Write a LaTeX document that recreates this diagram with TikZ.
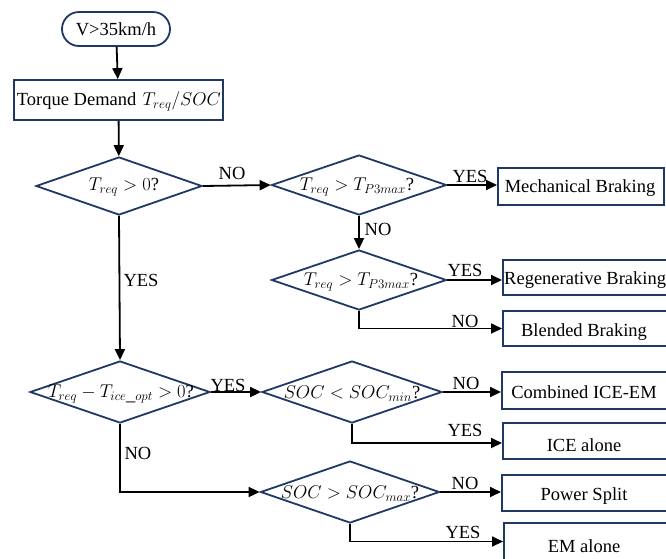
\RequirePackage{fix-cm}
\documentclass[tikz,border=0pt]{standalone}
\usepackage{fontspec}
\setmainfont{Liberation Serif}
\usetikzlibrary{shapes.geometric,arrows.meta}
\definecolor{navy}{RGB}{31,56,100}
\begin{document}
\begin{tikzpicture}[x=1pt,y=-1pt,
  every node/.style={font=\fontsize{18.5}{22}\selectfont},
  dia/.style={diamond,draw=navy,line width=1.8pt,inner sep=0pt},
  box/.style={rectangle,draw=navy,line width=1.8pt,inner sep=0pt},
  txt/.style={inner sep=0pt},
  lab/.style={inner sep=0pt},
  arr/.style={draw=black,line width=1.8pt,-{Triangle[length=11pt,width=10pt]}}]
\useasboundingbox (0,0) rectangle (666,558);
\begin{scope}
\clip (0,0) rectangle (666,558);
% start and demand
\node[box,rounded corners=17pt,minimum width=108pt,minimum height=34pt] (start) at (116,29) {V>35km/h};
\node[box,minimum width=209pt,minimum height=40pt] (torque) at (118.5,100) {};
\node[txt] (tt) at (119,101) {Torque Demand\,\,$T_{req}/SOC$};
% decisions
\node[dia,minimum width=166pt,minimum height=58pt] (d1) at (119,186) {};
\node[txt] (t1) at (124,187) {$T_{req}>0$?};
\node[dia,minimum width=175pt,minimum height=60pt] (d2) at (359,185) {};
\node[txt] (t2) at (357,187) {$T_{req}>T_{P3max}$?};
\node[dia,minimum width=175pt,minimum height=60pt] (d3) at (359,280) {};
\node[txt] (t3) at (361,282) {$T_{req}>T_{P3max}$?};
\node[dia,minimum width=180pt,minimum height=62pt] (d4) at (120,392) {};
\node[txt] (t4) at (121,394) {$T_{req}-T_{ice\_opt}>0$?};
\node[dia,minimum width=180pt,minimum height=62pt] (d5) at (352,392) {};
\node[txt] (t5) at (352,394) {$SOC<SOC_{min}$?};
\node[dia,minimum width=179pt,minimum height=62pt] (d6) at (350,492) {};
\node[txt] (t6) at (350,494) {$SOC>SOC_{max}$?};
% outcome boxes
\node[box,anchor=west,minimum width=166pt,minimum height=37pt] (mech) at (497,186.5) {};
\node[txt] (tm) at (580,188) {Mechanical Braking};
\node[box,anchor=west,minimum width=190pt,minimum height=35pt] (regen) at (502,277.5) {};
\node[txt,anchor=west] (tr) at (504,280) {Regenerative Braking};
\node[box,anchor=west,minimum width=190pt,minimum height=35pt] (blend) at (502,328.5) {};
\node[txt] (tb) at (584,332) {Blended Braking};
\node[box,anchor=west,minimum width=190pt,minimum height=37pt] (comb) at (501,390.5) {};
\node[txt] (tc) at (584,392) {Combined ICE-EM};
\node[box,anchor=west,minimum width=190pt,minimum height=36pt] (ice) at (502,441) {};
\node[txt] (ti) at (584,445) {ICE alone};
\node[box,anchor=west,minimum width=190pt,minimum height=36pt] (pow) at (501,493) {};
\node[txt] (tp) at (584,496) {Power Split};
\node[box,anchor=west,minimum width=190pt,minimum height=37pt] (em) at (503,541.5) {};
\node[txt] (te) at (584,546) {EM alone};
% connectors
\draw[arr] (start) -- (torque);
\draw[arr] (torque) -- (d1);
\draw[arr] (d1.east) -- (d2.west);
\draw[arr] (d2.east) -- (d2.east -| mech.west);
\draw[arr] (d2.south) -- (d3.north);
\draw[arr] (d3.east) -- (d3.east -| regen.west);
\draw[arr] (d3.south) |- (blend.west);
\draw[arr] (d1.south) -- (d4.north);
\draw[arr] (d4.east) -- (d5.west);
\draw[arr] (d5.east) -- (d5.east -| comb.west);
\draw[arr] (d5.south) |- ([yshift=-2pt]ice.west);
\draw[arr] (d4.south) |- (d6.west);
\draw[arr] (d6.east) -- (d6.east -| pow.west);
\draw[arr] (d6.south) |- (em.west);
% labels
\node[lab] (l1) at (232,173) {NO};
\node[lab] (l2) at (470,176) {YES};
\node[lab] (l3) at (378,229) {NO};
\node[lab] (l4) at (465,270) {YES};
\node[lab] (l5) at (465,321) {NO};
\node[lab] (l6) at (141,280) {YES};
\node[lab] (l7) at (228,385) {YES};
\node[lab] (l8) at (138,453) {NO};
\node[lab] (l9) at (466,383) {NO};
\node[lab] (l10) at (465,430) {YES};
\node[lab] (l11) at (465,483) {NO};
\node[lab] (l12) at (463,532) {YES};
\end{scope}
\end{tikzpicture}
\end{document}
